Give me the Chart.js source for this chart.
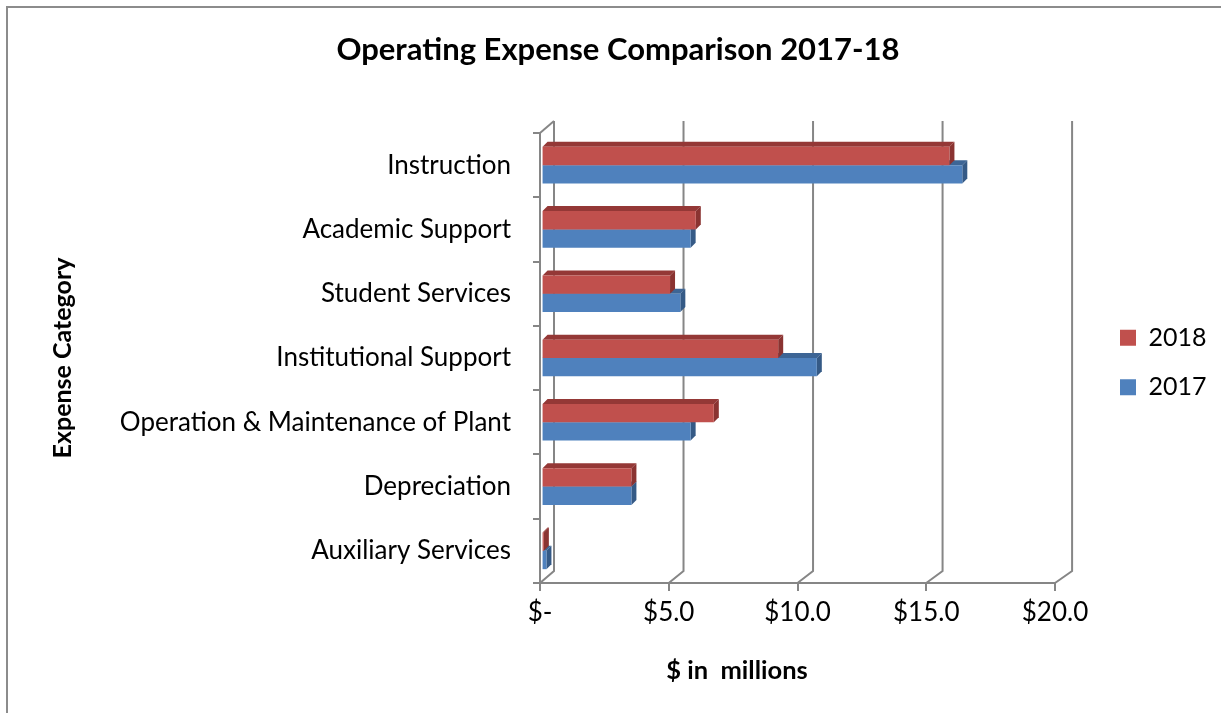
<!DOCTYPE html>
<html>
<head>
<meta charset="utf-8">
<title>Operating Expense Comparison 2017-18</title>
<script src="https://cdn.jsdelivr.net/npm/chart.js@4.4.1/dist/chart.umd.min.js"></script>
<style>
    html, body { margin: 0; padding: 0; background: #fff; overflow: hidden; }
    #wrap { position: relative; width: 1221px; height: 713px; }
    #frame {
        position: absolute; left: 6px; top: 6px; right: 0; bottom: 0;
        border-left: 2px solid #8c8c8c; border-top: 2px solid #8c8c8c;
        pointer-events: none;
    }
</style>
</head>
<body>
<div id="wrap">
    <canvas id="expenseChart"></canvas>
    <div id="frame"></div>
</div>
<script>
// Chart data ($ in millions)
const categories = [
    'Instruction',
    'Academic Support',
    'Student Services',
    'Institutional Support',
    'Operation & Maintenance of Plant',
    'Depreciation',
    'Auxiliary Services'
];
const values2018 = [15.9, 6.05, 5.05, 9.25, 6.75, 3.55, 0.15];
const values2017 = [16.4, 5.85, 5.45, 10.75, 5.85, 3.55, 0.25];
const xTicks = [0, 5, 10, 15, 20];

const FONT = 'Lato, "Open Sans", sans-serif';
const GRID = '#868686';
const BAR_DEPTH = 5;
const WALL_DX = 14;
const WALL_DY = 12;

// Face colors for the fake 3d look [front, top, side]
const faceColors = [
    ['#C0504D', '#943836', '#8A3331'],
    ['#4F81BD', '#3D6595', '#355A86']
];

function polygon(ctx, pts, color) {
    ctx.fillStyle = color;
    ctx.beginPath();
    ctx.moveTo(pts[0][0], pts[0][1]);
    for (let i = 1; i < pts.length; i++) ctx.lineTo(pts[i][0], pts[i][1]);
    ctx.closePath();
    ctx.fill();
}

// Plugin: back wall, bar depth faces and the x axis title
const threeDPlugin = {
    id: 'threeD',
    afterLayout(chart) {
        // legend sits further right and a bit lower in the original
        const lg = chart.legend;
        if (lg) {
            lg.left = chart.chartArea.right + 40.5;
            lg.width = chart.width - lg.left;
            lg.right = chart.width;
            lg.top += 6;
            lg.bottom += 6;
        }
        // title is centred on the whole picture
        const tb = chart.titleBlock;
        if (tb) {
            tb.left = 15;
            tb.right = chart.width;
            tb.width = tb.right - tb.left;
        }
    },
    beforeDatasetsDraw(chart) {
        const ctx = chart.ctx;
        const area = chart.chartArea;
        const x = chart.scales.x;

        ctx.save();
        ctx.strokeStyle = GRID;
        ctx.lineWidth = 2;
        xTicks.forEach(v => {
            const px = x.getPixelForValue(v);
            const dx = WALL_DX + (px - area.left) * 0.006;
            ctx.beginPath();
            ctx.moveTo(px, area.bottom);
            ctx.lineTo(px + dx, area.bottom - WALL_DY);
            ctx.lineTo(px + dx, area.top - WALL_DY);
            ctx.stroke();
        });
        ctx.beginPath();
        ctx.moveTo(area.left, area.top);
        ctx.lineTo(area.left + WALL_DX, area.top - WALL_DY);
        ctx.stroke();

        // lower series first so the upper one covers it
        [1, 0].forEach(di => {
            const meta = chart.getDatasetMeta(di);
            const cols = faceColors[di];
            meta.data.forEach(bar => {
                const p = bar.getProps(['x', 'y', 'base', 'height'], true);
                const top = p.y - p.height / 2;
                const bottom = p.y + p.height / 2;
                const d = BAR_DEPTH;
                polygon(ctx, [[p.base, top], [p.base + d, top - d], [p.x + d, top - d], [p.x, top]], cols[1]);
                polygon(ctx, [[p.x, top], [p.x + d, top - d], [p.x + d, bottom - d], [p.x, bottom]], cols[2]);
            });
        });
        ctx.restore();
    },
    afterDraw(chart) {
        const ctx = chart.ctx;
        const area = chart.chartArea;
        ctx.save();
        ctx.font = 'bold 25.5px ' + FONT;
        ctx.fillStyle = '#000';
        ctx.textAlign = 'center';
        ctx.textBaseline = 'middle';
        ctx.fillText('$ in  millions', area.left + 197, 671);
        ctx.restore();
    }
};

const ctx = document.getElementById('expenseChart');

const expenseChart = new Chart(ctx, {
    type: 'bar',
    data: {
        labels: categories,
        datasets: [{
            label: '2018',
            data: values2018,
            backgroundColor: faceColors[0][0],
            borderWidth: 0,
            base: 0.1
        }, {
            label: '2017',
            data: values2017,
            backgroundColor: faceColors[1][0],
            borderWidth: 0,
            base: 0.1
        }]
    },
    options: {
        indexAxis: 'y',
        responsive: true,
        maintainAspectRatio: false,
        animation: false,
        categoryPercentage: 0.57,
        barPercentage: 1.0,
        layout: {
            padding: { left: 0, right: 66, top: 0, bottom: 0 }
        },
        plugins: {
            title: {
                display: true,
                text: 'Operating Expense Comparison 2017-18',
                color: '#000',
                font: { family: FONT, size: 31, weight: 'bold' },
                padding: { top: 31.4, bottom: 64.4 }
            },
            legend: {
                position: 'right',
                maxWidth: 100,
                labels: {
                    color: '#000',
                    boxWidth: 16,
                    boxHeight: 16,
                    padding: 24.5,
                    font: { family: FONT, size: 25 }
                }
            },
            tooltip: {
                enabled: false
            }
        },
        scales: {
            x: {
                min: 0,
                max: 20,
                afterFit: function (scale) { scale.height = 130; },
                grid: {
                    drawOnChartArea: false,
                    color: GRID,
                    lineWidth: 2,
                    tickLength: 8
                },
                border: { color: GRID, width: 2 },
                ticks: {
                    stepSize: 5,
                    padding: 6,
                    color: '#000',
                    font: { family: FONT, size: 26 },
                    callback: function (value) {
                        return value === 0 ? '$-' : '$' + value.toFixed(1);
                    }
                }
            },
            y: {
                afterFit: function (scale) { scale.width = 540; },
                grid: {
                    drawOnChartArea: false,
                    color: GRID,
                    lineWidth: 2,
                    tickLength: 7
                },
                border: { color: GRID, width: 2 },
                ticks: {
                    padding: 22,
                    color: '#000',
                    font: { family: FONT, size: 26 }
                },
                title: {
                    display: true,
                    text: 'Expense Category',
                    color: '#000',
                    font: { family: FONT, size: 25, weight: 'bold' },
                    padding: { top: 48, bottom: 0 }
                }
            }
        }
    },
    plugins: [threeDPlugin]
});
</script>
</body>
</html>
